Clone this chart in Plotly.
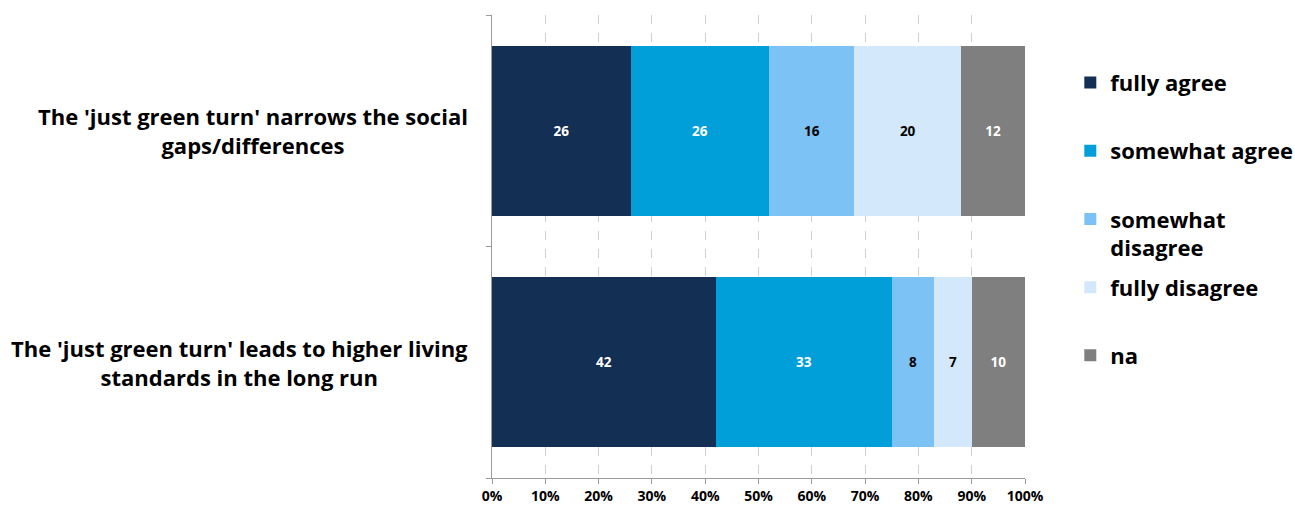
import plotly.graph_objects as go

categories = ["The 'just green turn' leads to higher living<br>standards in the long run",
              "The 'just green turn' narrows the social<br>gaps/differences"]
series_names = ["fully agree", "somewhat agree", "somewhat<br>disagree", "fully disagree", "na"]
values = {
    "fully agree": [42, 26],
    "somewhat agree": [33, 26],
    "somewhat<br>disagree": [8, 16],
    "fully disagree": [7, 20],
    "na": [10, 12],
}
colors = ["#132F53", "#009FDA", "#7CC2F4", "#D3E8FB", "#7F7F7F"]
text_colors = ["white", "white", "black", "black", "white"]
tick_vals = list(range(0, 101, 10))
tick_text = [f"{v}%" for v in tick_vals]

FONT = "Open Sans"
fig = go.Figure()
for i, name in enumerate(series_names):
    legend_name = name if "<br>" in name else name + "<br> "
    fig.add_trace(go.Bar(
        y=list(range(len(categories))), x=values[name], name=legend_name, orientation="h",
        marker=dict(color=colors[i], line=dict(width=0)),
        text=[str(v) for v in values[name]], textposition="inside",
        insidetextanchor="middle",
        textfont=dict(color=text_colors[i], size=13.5, family=FONT, weight="bold"),
        legendgroup=name, hoverinfo="skip",
    ))

for j, c in enumerate(categories):
    fig.add_annotation(x=0, y=j, xref="paper", yref="y", text=c, showarrow=False,
                       xanchor="right", xshift=-22, align="center",
                       font=dict(size=22, family=FONT, weight="bold", color="black"))

fig.update_layout(
    barmode="stack", bargap=0.265,
    width=1295, height=507,
    margin=dict(l=492, r=270, t=15, b=29, autoexpand=False),
    plot_bgcolor="white", paper_bgcolor="white",
    font=dict(family=FONT, color="black"),
    showlegend=True,
    legend=dict(x=1.085, y=0.899, xanchor="left", yanchor="top",
                font=dict(size=22, family=FONT, weight="bold", color="black"),
                tracegroupgap=8, traceorder="grouped", valign="top",
                itemclick=False, itemdoubleclick=False),
    xaxis=dict(range=[0, 100], tickvals=tick_vals, ticktext=tick_text, automargin=False,
               showgrid=True, gridcolor="#D0D0D0", griddash="dash", gridwidth=1,
               showline=True, linecolor="#9A9A9A", linewidth=1,
               ticks="outside", ticklen=5, tickcolor="#9A9A9A",
               tickfont=dict(size=14, family=FONT, weight="bold", color="black"),
               zeroline=False),
    yaxis=dict(range=[-0.5, 1.5], tickvals=[-0.5, 0.5, 1.5], showticklabels=False,
               automargin=False,
               showgrid=False, zeroline=False, showline=True, linecolor="#9A9A9A", linewidth=1,
               ticks="outside", ticklen=5, tickcolor="#9A9A9A"),
)

fig.write_html("out.html")
